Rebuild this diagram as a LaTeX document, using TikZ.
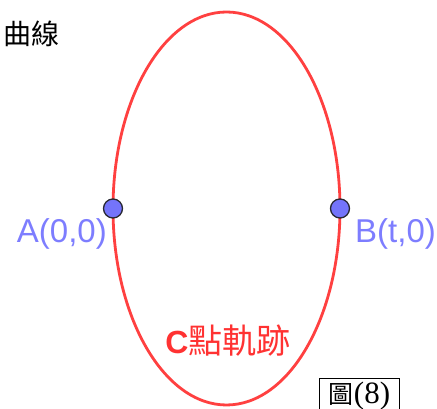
\documentclass[tikz,border=0pt]{standalone}
\usepackage{fontspec}
\setmainfont{Liberation Serif}
\setsansfont{Liberation Sans}
\newfontfamily\cjk{Noto Sans CJK TC}
\begin{document}
\begin{tikzpicture}[x=1pt,y=1pt,
  curvecol/.style={draw={rgb,255:red,255;green,64;blue,64}, line width=2.8pt},
  ptstyle/.style={circle, fill={rgb,255:red,116;green,116;blue,250}, draw={rgb,255:red,40;green,40;blue,50}, line width=1.3pt, minimum size=19pt, inner sep=0pt},
  ptlabel/.style={text={rgb,255:red,125;green,125;blue,255}, font=\sffamily\fontsize{33}{33}\selectfont, inner sep=0pt},
  cjklabel/.style={font=\cjk\fontsize{28}{28}\selectfont, inner sep=0pt}
]
\useasboundingbox (0,0) rectangle (437,409);
% curve
\draw[curvecol] (226.5,200.5) ellipse [x radius=113.5, y radius=196.5];
% points
\node[ptstyle] (A) at (113,200.5) {};
\node[ptstyle] (B) at (340,200.5) {};
\node[ptlabel, anchor=east] (Alab) at (107,175) {A(0,0)};
\node[ptlabel, anchor=west] (Blab) at (355,175) {B(t,0)};
% title
\node[cjklabel, anchor=west] (title) at (3,375) {曲線};
% curve label
\node[inner sep=0pt, text={rgb,255:red,255;green,50;blue,50}] (Clab) at (228,68)
  {{\sffamily\bfseries\fontsize{32}{32}\selectfont C}{\cjk\fontsize{34}{34}\selectfont 點軌跡}};
% figure caption
\node[draw=black, line width=1pt, inner xsep=5pt, inner ysep=3pt, anchor=north west, minimum width=80pt, minimum height=34pt] (fig) at (319,31)
  {{\cjk\fontsize{25}{25}\selectfont 圖}{\fontsize{31}{31}\selectfont(8)}};
\end{tikzpicture}
\end{document}
